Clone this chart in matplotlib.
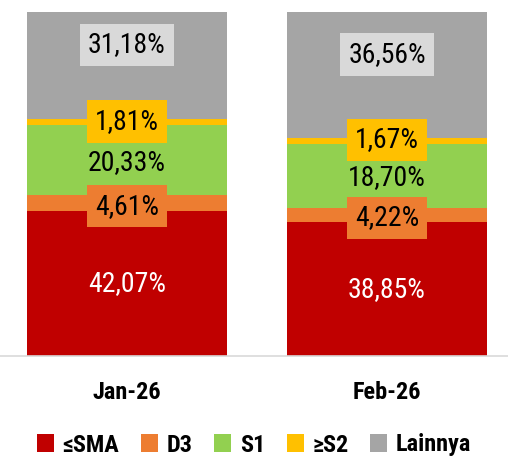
import matplotlib
matplotlib.use("Agg")
import matplotlib.pyplot as plt
import numpy as np
from matplotlib import font_manager
from matplotlib.patches import Patch

categories = ["Jan-26", "Feb-26"]
series_names = ["≤SMA", "D3", "S1", "≥S2", "Lainnya"]
sma = [42.07, 38.85]
d3 = [4.61, 4.22]
s1 = [20.33, 18.70]
s2 = [1.81, 1.67]
lainnya = [31.18, 36.56]
series = [sma, d3, s1, s2, lainnya]

colors = ["#C00000", "#ED7D31", "#92D050", "#FFC000", "#A5A5A5"]
label_box = [None, "#ED7D31", None, "#FFC000", "#D9D9D9"]
text_colors = ["white", "black", "black", "black", "black"]
label_shift = [0, -0.8, -0.6, 0.2, 6.0]

names = {f.name for f in font_manager.fontManager.ttflist}
fam = [f for f in ["Roboto Condensed", "Liberation Sans Narrow", "DejaVu Sans Condensed", "DejaVu Sans"] if f in names] + ["DejaVu Sans"]
plt.rcParams['font.family'] = fam

fig = plt.figure(figsize=(5.08, 4.59), dpi=100)
ax = fig.add_axes([0, (459 - 356) / 459, 1, 344 / 459])

x = np.arange(len(categories))
width = 0.77
bottom = np.zeros(len(categories))
for vals, col, box, tc, sh in zip(series, colors, label_box, text_colors, label_shift):
    vals = np.array(vals)
    ax.bar(x, vals, width, bottom=bottom, color=col, edgecolor="none")
    for xi, v, b in zip(x, vals, bottom):
        kw = {}
        if box:
            kw["bbox"] = dict(facecolor=box, edgecolor="none", pad=5.5)
        ax.text(xi, b + v / 2 + sh, f"{v:.2f}%".replace(".", ","), ha="center", va="center",
                fontsize=20, color=tc, **kw)
    bottom += vals

ax.set_xlim(-127 / 260, (508 - 127) / 260)
ax.set_ylim(0, 100)
for s in ["top", "right", "left"]:
    ax.spines[s].set_visible(False)
ax.spines["bottom"].set_color("#D9D9D9")
ax.spines["bottom"].set_linewidth(1.2)
ax.set_yticks([])
ax.set_xticks(x)
ax.set_xticklabels(categories, fontsize=17.5, fontweight="bold")
ax.tick_params(axis="x", length=0, pad=18)

handles = [Patch(facecolor=c, edgecolor="none") for c in colors]
fig.legend(handles, series_names, loc="center", bbox_to_anchor=(0.5, 14 / 459), ncol=5,
           frameon=False, prop={"size": 17.5, "weight": "bold"}, handlelength=0.7, handleheight=0.7,
           handletextpad=0.35, columnspacing=0.9)

fig.savefig("out.png", dpi=100)
